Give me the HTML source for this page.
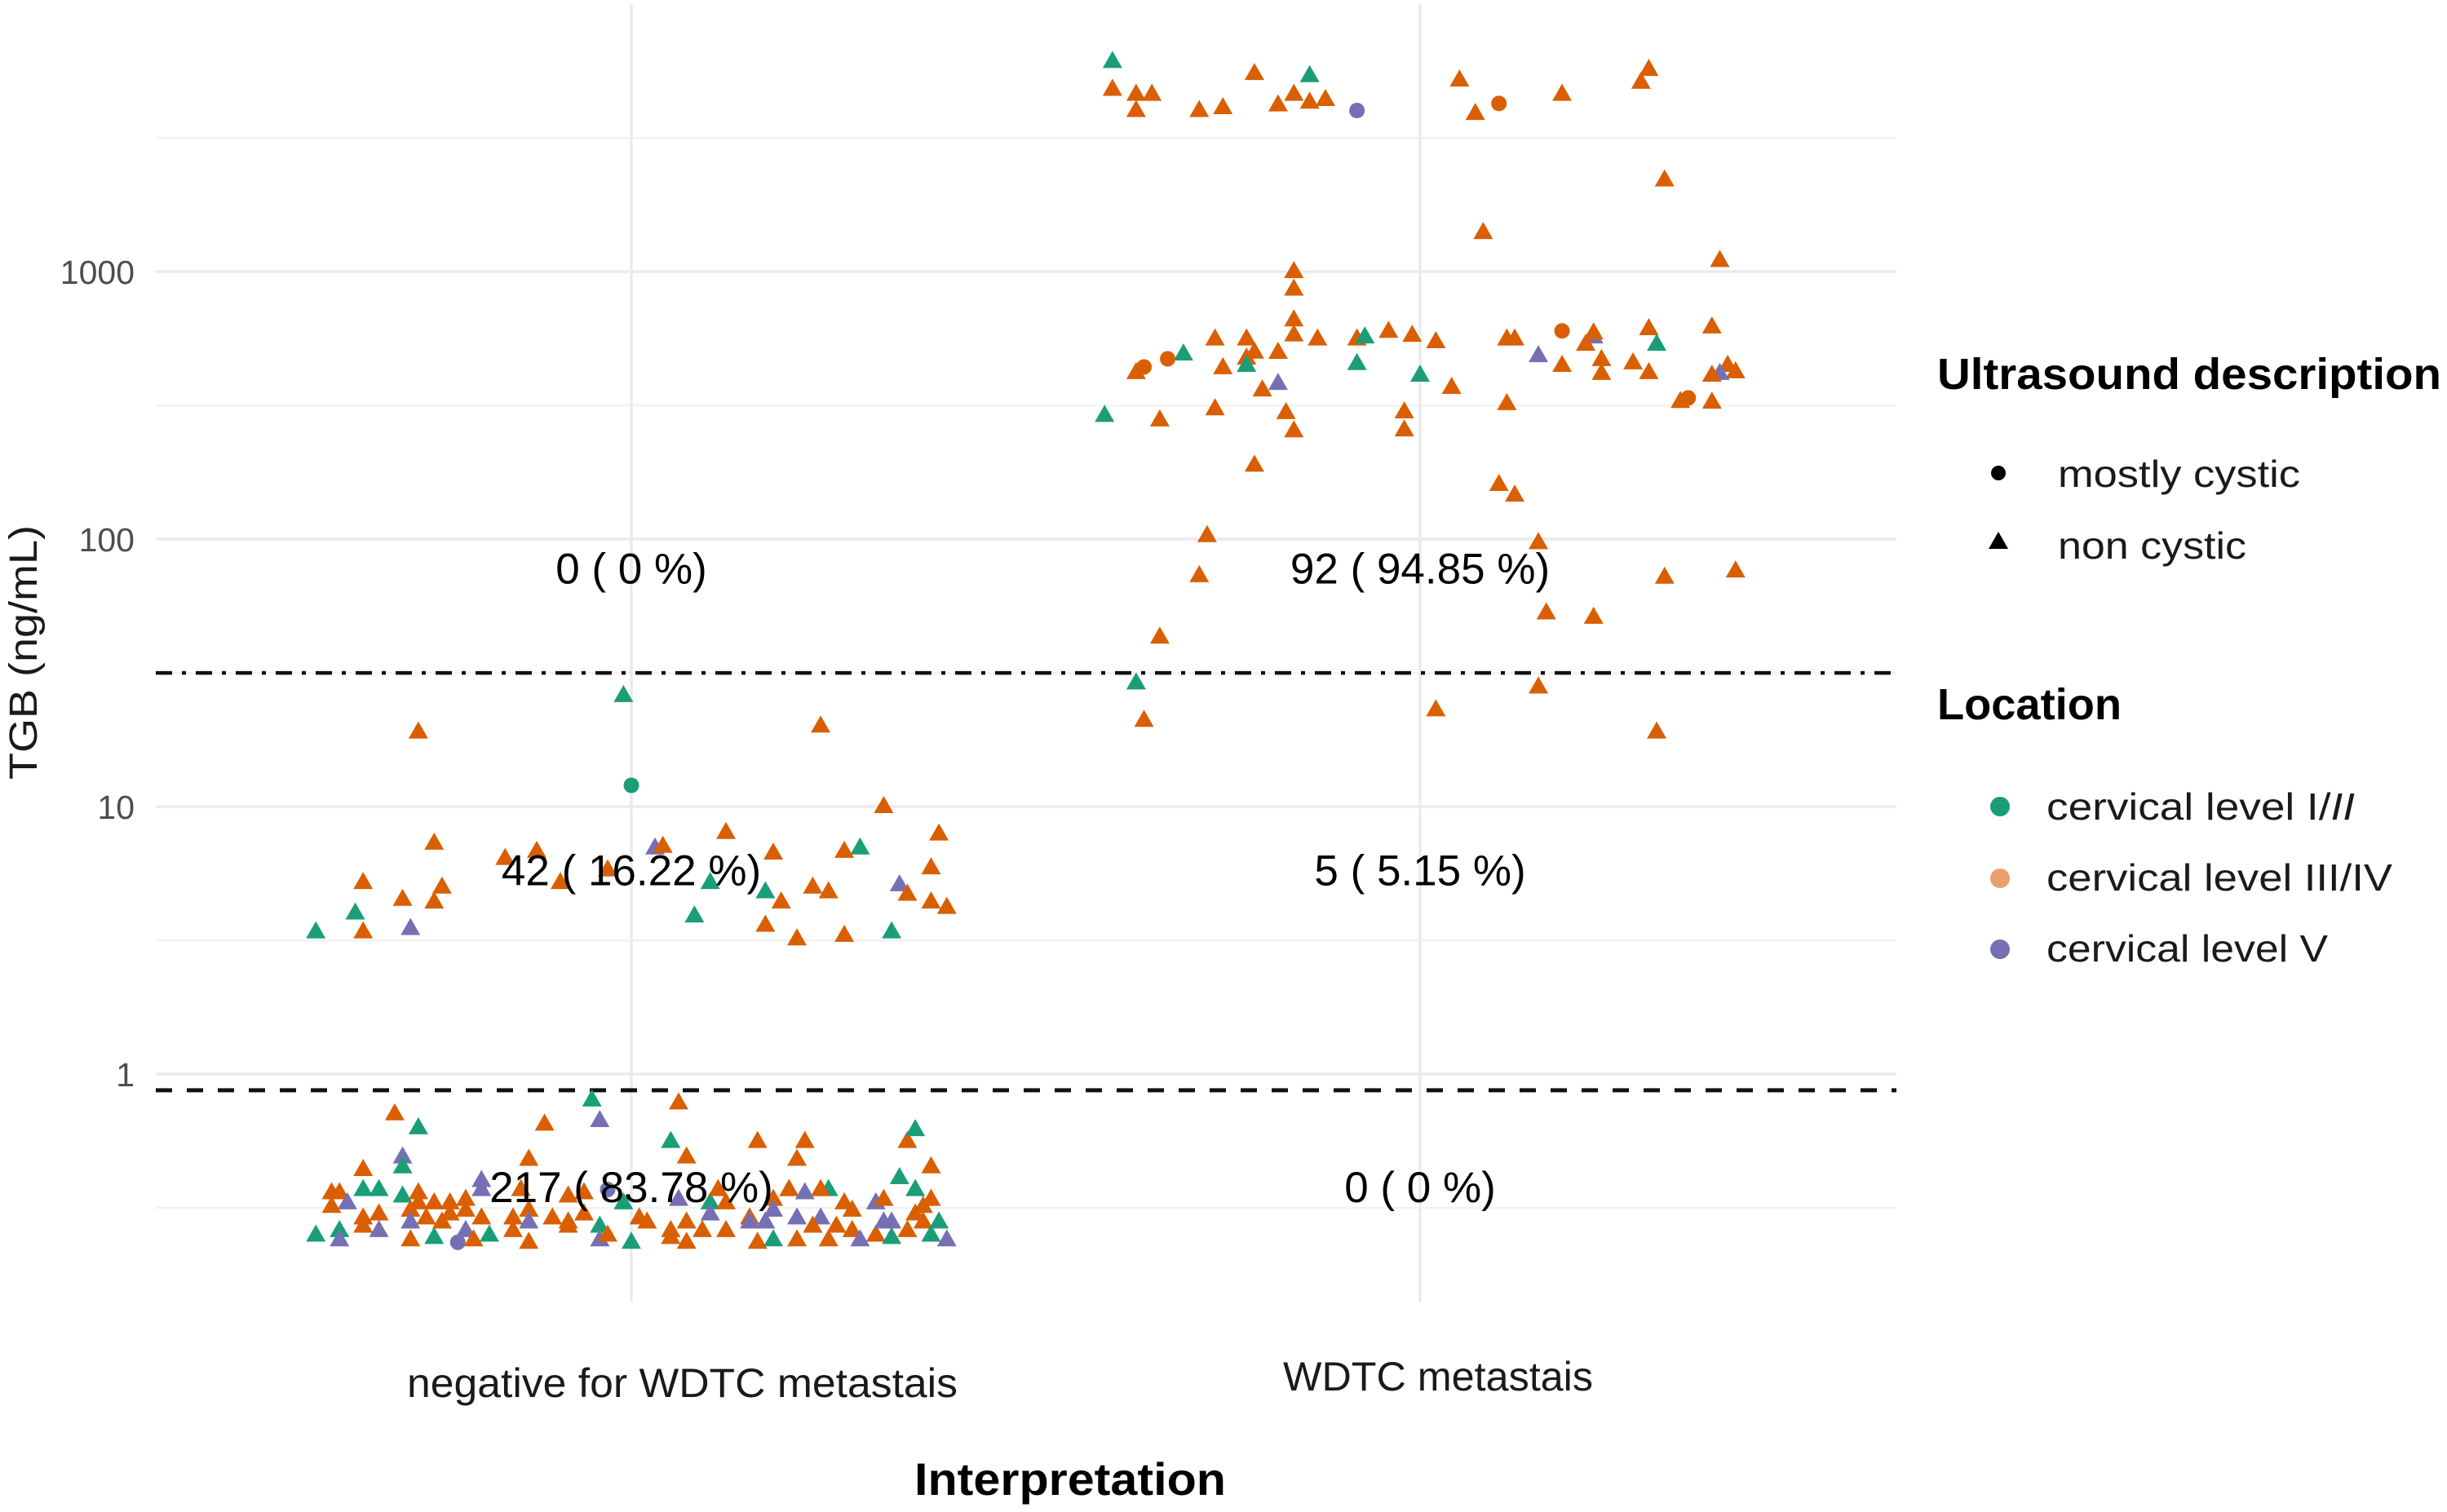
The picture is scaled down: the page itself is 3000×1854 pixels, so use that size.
<!DOCTYPE html>
<html>
<head>
<meta charset="utf-8">
<style>
html,body{margin:0;padding:0;background:#fff;}
svg{display:block;}
text{font-family:"Liberation Sans",sans-serif;}
</style>
</head>
<body>
<svg id="chart" width="3000" height="1854" viewBox="0 0 3000 1854" xmlns="http://www.w3.org/2000/svg">
  <rect x="0" y="0" width="3000" height="1854" fill="#ffffff"/>
  <g id="grid"></g>
  <g id="refs"></g>
  <g id="points"></g>
  <g id="annos"></g>
  <g id="yticks"></g>
  <text transform="translate(45,800) rotate(-90)" text-anchor="middle" font-size="48" fill="#1a1a1a" textLength="312" lengthAdjust="spacingAndGlyphs">TGB (ng/mL)</text>
  <text x="499" y="1713" font-size="50" fill="#1a1a1a" textLength="675" lengthAdjust="spacingAndGlyphs">negative for WDTC metastais</text>
  <text x="1573" y="1705" font-size="50" fill="#1a1a1a" textLength="380" lengthAdjust="spacingAndGlyphs">WDTC metastais</text>
  <text x="1121" y="1833" font-size="56" font-weight="bold" fill="#000" textLength="382" lengthAdjust="spacingAndGlyphs">Interpretation</text>
  <g>
    <text x="2375" y="477" font-size="54" font-weight="bold" fill="#000" textLength="618" lengthAdjust="spacingAndGlyphs">Ultrasound description</text>
    <circle cx="2450" cy="580" r="9" fill="#000"/>
    <text x="2523" y="597" font-size="46" fill="#1a1a1a" textLength="297" lengthAdjust="spacingAndGlyphs">mostly cystic</text>
    <polygon points="2450,652 2462,673 2438,673" fill="#000"/>
    <text x="2523" y="685" font-size="46" fill="#1a1a1a" textLength="231" lengthAdjust="spacingAndGlyphs">non cystic</text>
    <text x="2375" y="882" font-size="54" font-weight="bold" fill="#000" textLength="226" lengthAdjust="spacingAndGlyphs">Location</text>
    <circle cx="2452" cy="989" r="12" fill="#1b9e77"/>
    <text x="2509" y="1005" font-size="46" fill="#1a1a1a" textLength="378" lengthAdjust="spacingAndGlyphs">cervical level I/<tspan font-style="italic">II</tspan></text>
    <circle cx="2452" cy="1077" r="12" fill="#e9a06c"/>
    <text x="2509" y="1092" font-size="46" fill="#1a1a1a" textLength="424" lengthAdjust="spacingAndGlyphs">cervical level III/IV</text>
    <circle cx="2452" cy="1164" r="12" fill="#7570b3"/>
    <text x="2509" y="1179" font-size="46" fill="#1a1a1a" textLength="345" lengthAdjust="spacingAndGlyphs">cervical level V</text>
  </g>
</svg>
<script>
// ---- data ----
const categories = ["negative for WDTC metastais", "WDTC metastais"];
const yTickValues = [1, 10, 100, 1000];
const yTickLabels = ["1", "10", "100", "1000"];
const yMinorValues = [0.316, 3.16, 31.6, 316, 3162];
const thresholdHigh = 31.6;
const thresholdLow = 0.87;
const annoCat = [1, 2, 1, 2, 1, 2];
const annoValue = [78, 78, 5.8, 5.8, 0.38, 0.38];
const annoLabels = ["0 ( 0 %)", "92 ( 94.85 %)", "42 ( 16.22 %)", "5 ( 5.15 %)", "217 ( 83.78 %)", "0 ( 0 %)"];
const locationNames = ["cervical level I/II", "cervical level III/IV", "cervical level V"];
const locationColors = ["#1b9e77", "#d95f02", "#7570b3"];

// WDTC metastasis group (category 2)
const posX = [1.61,1.61,1.64,1.66,1.64,1.72,1.75,1.79,1.86,1.82,1.84,1.86,1.88,1.92,2.05,2.07,2.10,2.18,2.28,2.29,2.31,2.08,2.38,
1.84,1.84,1.84,1.84,1.87,1.74,1.78,1.79,1.78,1.78,1.70,1.68,1.65,1.64,1.75,1.82,1.82,1.80,1.92,1.93,1.96,1.99,2.02,1.92,2.00,2.04,2.11,2.12,2.15,2.18,2.22,2.22,2.21,2.23,2.18,2.23,2.27,2.29,2.29,2.30,2.37,2.39,2.40,2.38,2.37,2.34,2.33,2.37,
1.60,1.67,1.74,1.83,1.84,1.98,1.98,2.11,1.79,2.10,2.12,1.73,2.15,1.72,2.31,2.40,2.16,2.22,1.67,1.64,2.15,1.65,2.02,2.30];
const posTGB = [6100,4800,4600,4600,4000,4000,4100,5500,5400,4200,4600,4300,4400,4000,5200,3900,4250,4600,5100,5700,2200,1400,1100,
1000,860,660,580,560,560,560,500,475,446,492,472,440,419,437,499,382,361,560,570,598,578,547,453,410,369,560,560,485,600,570,590,535,469,446,416,456,419,612,535,621,446,422,416,410,337,327,325,
290,279,307,297,254,299,256,321,189,160,146,103,97,73,72,76,53,51,43,29,28,21,23,19];
const posLoc = [0,1,1,1,1,1,1,1,0,1,1,1,1,2,1,1,1,1,1,1,1,1,1,
1,1,1,1,1,1,1,1,1,0,0,1,1,1,1,1,2,1,1,0,1,1,1,0,0,1,1,1,2,1,2,1,1,1,1,1,1,1,1,0,1,1,1,2,1,1,1,1,
0,1,1,1,1,1,1,1,1,1,1,1,1,1,1,1,1,1,1,0,1,1,1,1];
const posShape = ["t","t","t","t","t","t","t","t","t","t","t","t","t","c","t","t","c","t","t","t","t","t","t",
"t","t","t","t","t","t","t","t","t","t","t","c","c","t","t","t","t","t","t","t","t","t","t","t","t","t","t","t","t","c","t","t","t","t","t","t","t","t","t","t","t","t","t","t","t","c","t","t",
"t","t","t","t","t","t","t","t","t","t","t","t","t","t","t","t","t","t","t","t","t","t","t","t"];

// negative group (category 1)
const negX = [0.99,0.73,1.00,1.24,1.32,0.75,0.66,0.71,0.76,0.75,0.65,0.66,0.72,0.60,0.88,0.84,0.91,0.97,1.03,1.04,1.12,1.10,1.08,1.18,1.17,1.19,1.23,1.25,1.17,1.21,1.27,1.29,1.27,1.33,1.34,1.35,1.39,1.38,1.38,1.40,
0.70,0.73,0.71,0.71,0.66,0.89,0.95,0.96,0.87,0.62,0.63,0.66,0.68,0.71,0.73,0.73,0.75,0.77,0.79,0.81,0.81,0.86,0.92,0.94,0.97,0.99,0.64,0.62,0.66,0.68,0.72,0.74,0.77,0.79,0.81,0.85,0.87,0.90,0.92,0.94,1.01,
0.60,0.63,0.63,0.66,0.68,0.72,0.72,0.75,0.76,0.79,0.78,0.80,0.82,0.85,0.87,0.87,0.92,0.96,0.96,0.97,1.00,
1.06,1.05,1.07,1.16,1.22,1.21,1.35,1.36,1.38,1.34,1.06,1.10,1.11,1.12,1.18,1.20,1.20,1.22,1.25,1.24,1.27,1.28,1.31,1.32,1.36,1.38,1.37,
1.02,1.05,1.07,1.10,1.09,1.12,1.15,1.15,1.17,1.18,1.21,1.24,1.23,1.26,1.28,1.31,1.32,1.33,1.35,1.36,1.37,1.05,1.07,1.16,1.18,1.21,1.25,1.29,1.33,1.38,1.40,1.39];
const negTGB = [26,19,12,20,10,7.3,5.2,4.5,5.0,4.4,4.0,3.4,3.5,3.4,6.8,6.4,5.2,5.8,7.0,7.1,8.0,5.2,3.9,6.7,4.8,4.4,5.0,4.8,3.6,3.2,3.3,7.0,6.8,3.4,5.1,4.7,7.9,5.9,4.4,4.2,
0.71,0.63,0.49,0.45,0.44,0.65,0.80,0.67,0.48,0.36,0.36,0.37,0.37,0.35,0.36,0.33,0.33,0.33,0.34,0.40,0.37,0.37,0.35,0.36,0.37,0.33,0.33,0.32,0.29,0.30,0.31,0.29,0.30,0.31,0.29,0.29,0.31,0.29,0.28,0.30,0.29,
0.25,0.26,0.24,0.27,0.26,0.28,0.24,0.245,0.28,0.26,0.235,0.24,0.25,0.26,0.28,0.235,0.27,0.27,0.24,0.25,0.235,
0.78,0.56,0.49,0.56,0.56,0.48,0.56,0.62,0.45,0.41,0.34,0.33,0.37,0.33,0.34,0.37,0.37,0.36,0.37,0.37,0.33,0.31,0.33,0.34,0.37,0.34,0.32,
0.28,0.26,0.28,0.30,0.26,0.26,0.29,0.28,0.28,0.31,0.29,0.29,0.27,0.27,0.26,0.25,0.28,0.28,0.26,0.30,0.28,0.245,0.235,0.235,0.24,0.24,0.24,0.24,0.245,0.25,0.24,0.28];
const negLoc = [0,1,0,1,1,1,1,1,1,1,0,1,2,0,1,1,1,1,2,1,1,0,0,1,0,1,1,1,1,1,1,0,1,0,2,1,1,1,1,1,
1,0,2,0,1,1,0,2,1,1,1,0,0,0,1,1,1,1,1,2,2,1,1,1,2,0,2,1,1,1,1,1,1,1,1,1,1,1,1,1,1,
0,0,2,1,2,2,1,0,1,2,2,1,0,1,2,1,1,0,2,1,0,
1,0,1,1,1,1,1,0,1,0,2,0,1,1,1,1,1,2,0,1,1,1,2,1,0,1,1,
1,1,1,2,1,1,1,2,2,2,2,2,1,1,1,1,2,2,1,1,1,1,1,1,0,1,1,2,0,0,2,0];
const negShape = ["t","t","c","t","t","t","t","t","t","t","t","t","t","t","t","t","t","t","t","t","t","t","t","t","t","t","t","t","t","t","t","t","t","t","t","t","t","t","t","t",
"t","t","t","t","t","t","t","t","t","t","t","t","t","t","t","t","t","t","t","t","t","t","t","t","c","t","t","t","t","t","t","t","t","t","t","t","t","t","t","t","t",
"t","t","t","t","t","t","t","t","t","t","c","t","t","t","t","t","t","t","t","t","t",
"t","t","t","t","t","t","t","t","t","t","t","t","t","t","t","t","t","t","t","t","t","t","t","t","t","t","t",
"t","t","t","t","t","t","t","t","t","t","t","t","t","t","t","t","t","t","t","t","t","t","t","t","t","t","t","t","t","t","t","t"];

// ---- scales ----
const NS = "http://www.w3.org/2000/svg";
const plotLeft = 191, plotRight = 2325, plotTop = 5, plotBottom = 1597;
function xScale(c) { return 774 + (c - 1) * 967; }
function yScale(v) { return 1317 - Math.log10(v) * 328; }
function mk(tag, attrs, parent) {
  const el = document.createElementNS(NS, tag);
  for (const k in attrs) el.setAttribute(k, attrs[k]);
  parent.appendChild(el);
  return el;
}

// ---- grid ----
const grid = document.getElementById("grid");
yMinorValues.forEach(v => {
  const l = mk("line", {x1: plotLeft, x2: plotRight, y1: yScale(v), y2: yScale(v), stroke: "#f2f2f2", "stroke-width": 2.5}, grid);
  
  
});
yTickValues.forEach(v => {
  const l = mk("line", {x1: plotLeft, x2: plotRight, y1: yScale(v), y2: yScale(v), stroke: "#ebebeb", "stroke-width": 3.5}, grid);
  
  
});
categories.forEach((c, i) => {
  const l = mk("line", {x1: xScale(i + 1), x2: xScale(i + 1), y1: plotTop, y2: plotBottom, stroke: "#ebebeb", "stroke-width": 3.5}, grid);
  
  
});

// ---- reference lines ----
const refs = document.getElementById("refs");
const rh = mk("line", {x1: plotLeft, x2: plotRight, y1: yScale(thresholdHigh), y2: yScale(thresholdHigh), stroke: "#111", "stroke-width": 4.5, "stroke-dasharray": "20 12 5 12"}, refs);


const rl = mk("line", {x1: plotLeft, x2: plotRight, y1: yScale(thresholdLow), y2: yScale(thresholdLow), stroke: "#111", "stroke-width": 5, "stroke-dasharray": "20 18"}, refs);



// ---- points ----
const pts = document.getElementById("points");
function drawPoint(c, v, loc, shape) {
  const cx = xScale(c), cy = yScale(v);
  const col = locationColors[loc];
  let el;
  if (shape === "c") {
    el = mk("circle", {cx: cx, cy: cy, r: 9.5, fill: col}, pts);
  } else {
    el = mk("polygon", {points: `${cx},${cy - 13} ${cx + 12},${cy + 8} ${cx - 12},${cy + 8}`, fill: col}, pts);
  }
  
  
}
for (let i = 0; i < negX.length; i++) drawPoint(negX[i], negTGB[i], negLoc[i], negShape[i]);
for (let i = 0; i < posX.length; i++) drawPoint(posX[i], posTGB[i], posLoc[i], posShape[i]);

// ---- annotations ----
const annos = document.getElementById("annos");
annoLabels.forEach((t, i) => {
  const el = mk("text", {x: xScale(annoCat[i]), y: yScale(annoValue[i]) + 19, "text-anchor": "middle", "font-size": 53, fill: "#000"}, annos);
  el.textContent = t;
  
  
});

// ---- y ticks ----
const yt = document.getElementById("yticks");
yTickValues.forEach((v, i) => {
  const el = mk("text", {x: 165, y: yScale(v) + 15, "text-anchor": "end", "font-size": 41, fill: "#4d4d4d"}, yt);
  el.textContent = yTickLabels[i];
  
  
});
</script>
</body>
</html>
